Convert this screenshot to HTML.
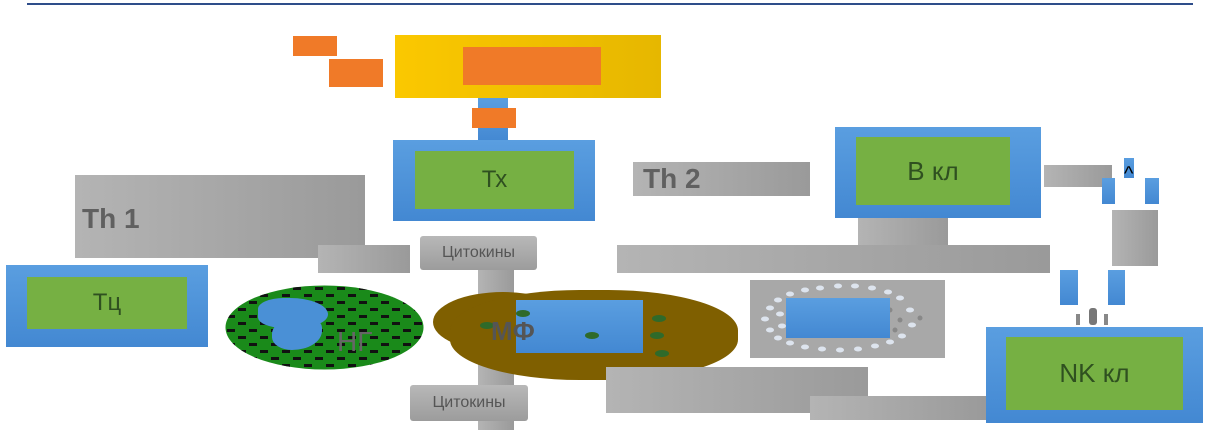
<!DOCTYPE html>
<html><head><meta charset="utf-8"><style>
body{margin:0;width:1218px;height:443px;background:#fff;position:relative;overflow:hidden;font-family:"Liberation Sans","DejaVu Sans",sans-serif}
div{position:absolute;box-sizing:border-box}
.b{background:linear-gradient(#5a9ee0,#4388d2)}
.g{background:#76b043;color:#2f5020;font-size:24px;display:flex;align-items:center;justify-content:center}
.gr{background:linear-gradient(90deg,#b4b4b4,#9a9a9a)}
.o{background:#f07a28}
.c{background:linear-gradient(#b8b8b8,#9c9c9c);color:#555;font-size:16px;display:flex;align-items:center;justify-content:center;border-radius:3px}
.d{width:14px;height:7px;border-radius:50%;background:#2f6a2a}
</style></head><body>
<div style="left:27px;top:3px;width:1166px;height:2px;background:#2e4d8a"></div>
<div class="o" style="left:293px;top:36px;width:44px;height:20px"></div>
<div class="o" style="left:329px;top:59px;width:54px;height:28px"></div>
<div style="left:395px;top:35px;width:266px;height:63px;background:linear-gradient(90deg,#fbc800,#e6b700)"></div>
<div class="o" style="left:463px;top:47px;width:138px;height:38px"></div>
<div class="b" style="left:478px;top:98px;width:30px;height:44px"></div>
<div class="o" style="left:472px;top:108px;width:44px;height:20px"></div>
<div class="b" style="left:393px;top:140px;width:202px;height:81px"></div>
<div class="g" style="left:415px;top:151px;width:159px;height:58px">Тх</div>
<div class="gr" style="left:75px;top:175px;width:290px;height:83px"></div>
<div style="left:82px;top:203px;font-size:28px;font-weight:bold;color:#606060">Th 1</div>
<div class="gr" style="left:318px;top:245px;width:92px;height:28px"></div>
<div class="gr" style="left:478px;top:265px;width:36px;height:165px"></div>
<div class="c" style="left:420px;top:236px;width:117px;height:34px">Цитокины</div>
<div class="b" style="left:6px;top:265px;width:202px;height:82px"></div>
<div class="g" style="left:27px;top:277px;width:160px;height:52px">Тц</div>
<svg style="position:absolute;left:225px;top:285px" width="199" height="85">
<defs><clipPath id="e"><ellipse cx="99.5" cy="42.5" rx="99" ry="42"/></clipPath>
<pattern id="p" width="22" height="14" patternUnits="userSpaceOnUse"><rect x="2" y="2" width="8" height="3" fill="#111"/><rect x="13" y="9" width="8" height="3" fill="#111"/></pattern></defs>
<ellipse cx="99.5" cy="42.5" rx="99" ry="42" fill="#1a8a1a"/>
<rect width="199" height="85" fill="url(#p)" clip-path="url(#e)"/>
</svg>
<div style="left:258px;top:298px;width:70px;height:30px;border-radius:40% 60% 50% 40%;background:#4a90d6"></div>
<div style="left:272px;top:318px;width:50px;height:32px;border-radius:50% 30% 60% 40%;background:#4a90d6"></div>
<div style="left:337px;top:326px;font-size:28px;color:#666">НГ</div>
<div style="left:433px;top:292px;width:140px;height:60px;border-radius:50%;background:#7f5f00"></div>
<div style="left:450px;top:290px;width:288px;height:90px;border-radius:45%;background:#7f5f00"></div>
<div class="b" style="left:516px;top:300px;width:127px;height:53px"></div>
<div class="d" style="left:480px;top:322px"></div>
<div class="d" style="left:585px;top:332px"></div>
<div class="d" style="left:652px;top:315px"></div>
<div class="d" style="left:650px;top:332px"></div>
<div class="d" style="left:655px;top:350px"></div>
<div class="d" style="left:516px;top:310px"></div>
<div style="left:491px;top:316px;font-size:26px;font-weight:bold;color:#555">МФ</div>
<div class="c" style="left:410px;top:385px;width:118px;height:36px">Цитокины</div>
<div class="gr" style="left:633px;top:162px;width:177px;height:34px"></div>
<div style="left:643px;top:163px;font-size:28px;font-weight:bold;color:#606060">Th 2</div>
<div class="b" style="left:835px;top:127px;width:206px;height:91px"></div>
<div class="g" style="left:856px;top:137px;width:154px;height:68px;font-size:26px">В кл</div>
<div class="gr" style="left:858px;top:218px;width:90px;height:28px"></div>
<div class="gr" style="left:617px;top:245px;width:433px;height:28px"></div>
<div class="gr" style="left:1044px;top:165px;width:68px;height:22px"></div>
<div class="b" style="left:1124px;top:158px;width:10px;height:20px"></div>
<div class="b" style="left:1102px;top:178px;width:13px;height:26px"></div>
<div class="b" style="left:1145px;top:178px;width:14px;height:26px"></div>
<div style="left:1124px;top:163px;font-size:20px;color:#000">^</div>
<div class="gr" style="left:1112px;top:210px;width:46px;height:56px"></div>
<div class="b" style="left:1060px;top:270px;width:18px;height:35px"></div>
<div class="b" style="left:1108px;top:270px;width:17px;height:35px"></div>
<div style="left:1089px;top:308px;width:8px;height:17px;background:#777;border-radius:3px"></div>
<div style="left:1076px;top:314px;width:4px;height:11px;background:#888"></div>
<div style="left:1104px;top:314px;width:4px;height:11px;background:#888"></div>
<div class="b" style="left:986px;top:327px;width:217px;height:96px"></div>
<div class="g" style="left:1006px;top:337px;width:177px;height:73px;font-size:26px">NK кл</div>
<div style="left:750px;top:280px;width:195px;height:78px;background:#a8a8a8"></div>
<svg style="position:absolute;left:750px;top:280px" width="195" height="78">
<g fill="#dde4ee">
<ellipse cx="15" cy="39" rx="4" ry="2.5"/><ellipse cx="20" cy="28" rx="4" ry="2.5"/><ellipse cx="20" cy="50" rx="4" ry="2.5"/>
<ellipse cx="28" cy="20" rx="4" ry="2.5"/><ellipse cx="28" cy="58" rx="4" ry="2.5"/><ellipse cx="40" cy="14" rx="4" ry="2.5"/>
<ellipse cx="40" cy="63" rx="4" ry="2.5"/><ellipse cx="55" cy="10" rx="4" ry="2.5"/><ellipse cx="55" cy="67" rx="4" ry="2.5"/>
<ellipse cx="70" cy="8" rx="4" ry="2.5"/><ellipse cx="72" cy="69" rx="4" ry="2.5"/><ellipse cx="88" cy="6" rx="4" ry="2.5"/>
<ellipse cx="90" cy="70" rx="4" ry="2.5"/><ellipse cx="105" cy="6" rx="4" ry="2.5"/><ellipse cx="108" cy="69" rx="4" ry="2.5"/>
<ellipse cx="122" cy="8" rx="4" ry="2.5"/><ellipse cx="125" cy="66" rx="4" ry="2.5"/><ellipse cx="138" cy="12" rx="4" ry="2.5"/>
<ellipse cx="140" cy="62" rx="4" ry="2.5"/><ellipse cx="150" cy="18" rx="4" ry="2.5"/><ellipse cx="152" cy="56" rx="4" ry="2.5"/>
<ellipse cx="30" cy="34" rx="4" ry="2.5"/><ellipse cx="32" cy="46" rx="4" ry="2.5"/><ellipse cx="160" cy="30" rx="4" ry="2.5"/>
<ellipse cx="162" cy="45" rx="4" ry="2.5"/>
</g>
<g fill="#888"><circle cx="150" cy="40" r="2.5"/><circle cx="140" cy="30" r="2.5"/><circle cx="170" cy="38" r="2.5"/><circle cx="145" cy="50" r="2.5"/></g>
</svg>
<div class="b" style="left:786px;top:298px;width:104px;height:40px"></div>
<div class="gr" style="left:606px;top:367px;width:262px;height:46px"></div>
<div class="gr" style="left:810px;top:396px;width:176px;height:24px"></div>
</body></html>
